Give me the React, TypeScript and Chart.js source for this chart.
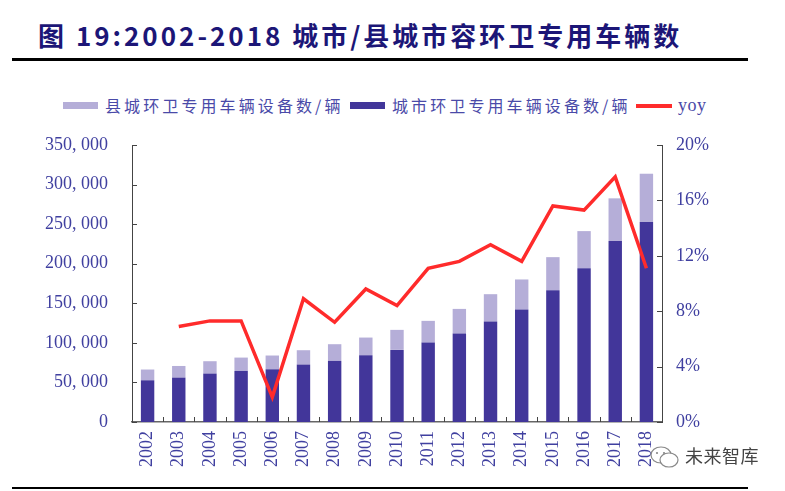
import { useEffect, useRef } from 'react'
import { Chart, registerables } from 'chart.js'

Chart.register(...registerables)

// 数据（从原图读取，单位：辆 / %）
const years = ['2002', '2003', '2004', '2005', '2006', '2007', '2008', '2009', '2010', '2011', '2012', '2013', '2014', '2015', '2016', '2017', '2018']
const cityVehicles = [52700, 56100, 61200, 64500, 66600, 72600, 77200, 84400, 91100, 100400, 111800, 127000, 142200, 166600, 194400, 228600, 252600]
const countyVehicles = [13600, 14700, 15600, 16900, 17400, 18100, 21100, 22300, 25300, 27400, 31100, 34500, 37900, 41700, 46800, 54000, 61100]
const yoy = [null, 6.9, 7.3, 7.3, 1.8, 8.9, 7.2, 9.6, 8.4, 11.1, 11.6, 12.8, 11.6, 15.6, 15.3, 17.7, 11.1]
const leftMax = 350000
const leftStep = 50000
const rightMax = 20
const rightStep = 4

const countyLabel = '县城环卫专用车辆设备数/辆'
const cityLabel = '城市环卫专用车辆设备数/辆'
const yoyLabel = 'yoy'

const DARK = '#42369a'
const LIGHT = '#b5aed8'
const RED = '#ff2b2b'
const TICK = '#4040a0'
const SERIF = '"Liberation Serif", "DejaVu Serif", serif'
const CJK = '"Noto Sans CJK SC", "Noto Sans", sans-serif'

// 坐标轴内侧刻度线
const innerTicks = {
  id: 'innerTicks',
  afterDraw (chart) {
    const { ctx, chartArea, scales } = chart
    ctx.save()
    ctx.strokeStyle = '#444'
    ctx.lineWidth = 1
    ctx.beginPath()
    scales.y.ticks.forEach((t, i) => {
      const py = Math.round(scales.y.getPixelForTick(i)) + 0.5
      ctx.moveTo(chartArea.left, py)
      ctx.lineTo(chartArea.left + 5, py)
    })
    scales.y1.ticks.forEach((t, i) => {
      const py = Math.round(scales.y1.getPixelForTick(i)) + 0.5
      ctx.moveTo(chartArea.right, py)
      ctx.lineTo(chartArea.right - 5, py)
    })
    for (let i = 1; i < years.length; i++) {
      const px = Math.round((scales.x.getPixelForTick(i - 1) + scales.x.getPixelForTick(i)) / 2) + 0.5
      ctx.moveTo(px, chartArea.bottom)
      ctx.lineTo(px, chartArea.bottom - 5)
    }
    ctx.stroke()
    ctx.restore()
  },
}

// 固定轴宽，去掉标签带来的上下留白
const fixWidth = (w) => (s) => {
  s.width = w
  s.paddingTop = 0
  s.paddingBottom = 0
}

function VehicleChart () {
  const chartRef = useRef(null)
  const chartInstance = useRef(null)

  useEffect(() => {
    if (chartInstance.current) {
      chartInstance.current.destroy()
    }
    const ctx = chartRef.current.getContext('2d')
    chartInstance.current = new Chart(ctx, {
      type: 'bar',
      data: {
        labels: years,
        datasets: [
          {
            type: 'line',
            label: yoyLabel,
            data: yoy,
            yAxisID: 'y1',
            borderColor: RED,
            borderWidth: 3.5,
            pointRadius: 0,
            tension: 0,
            order: 0,
          },
          {
            label: cityLabel,
            data: cityVehicles,
            backgroundColor: DARK,
            yAxisID: 'y',
            stack: 's',
            barPercentage: 0.43,
            categoryPercentage: 1,
            order: 1,
          },
          {
            label: countyLabel,
            data: countyVehicles,
            backgroundColor: LIGHT,
            yAxisID: 'y',
            stack: 's',
            barPercentage: 0.43,
            categoryPercentage: 1,
            order: 1,
          },
        ],
      },
      options: {
        animation: false,
        responsive: false,
        maintainAspectRatio: false,
        layout: { padding: { top: 15, left: 0, right: 0, bottom: 0 } },
        plugins: {
          legend: { display: false },
          tooltip: { enabled: false },
        },
        scales: {
          x: {
            stacked: true,
            offset: true,
            grid: { display: false, drawTicks: false },
            border: { display: true, color: '#666', width: 1.5 },
            ticks: {
              color: TICK,
              font: { family: SERIF, size: 18 },
              minRotation: 90,
              maxRotation: 90,
              padding: 9,
              autoSkip: false,
            },
            afterFit: (s) => { s.height = 58 },
          },
          y: {
            position: 'left',
            stacked: true,
            min: 0,
            max: leftMax,
            grid: { display: false, drawTicks: false },
            border: { display: true, color: '#444', width: 1 },
            ticks: {
              stepSize: leftStep,
              color: TICK,
              font: { family: SERIF, size: 18 },
              padding: 24,
              callback: (v) => v === 0 ? '0' : Math.floor(v / 1000) + ', ' + String(v % 1000).padStart(3, '0'),
            },
            afterFit: fixWidth(132),
          },
          y1: {
            position: 'right',
            min: 0,
            max: rightMax,
            grid: { display: false, drawTicks: false },
            border: { display: true, color: '#444', width: 1 },
            ticks: {
              stepSize: rightStep,
              color: TICK,
              font: { family: SERIF, size: 18 },
              padding: 14,
              callback: (v) => v + '%',
            },
            afterFit: fixWidth(123),
          },
        },
      },
      plugins: [innerTicks],
    })

    return () => {
      if (chartInstance.current) {
        chartInstance.current.destroy()
        chartInstance.current = null
      }
    }
  }, [])

  return (
    <canvas
      ref={chartRef}
      width={785}
      height={350}
      style={{ position: 'absolute', left: 0, top: 130, width: 785, height: 350 }}
    />
  )
}

const legendText = {
  position: 'absolute',
  top: 95,
  fontFamily: CJK,
  fontSize: 16,
  lineHeight: '20px',
  letterSpacing: '3.1px',
  color: '#4a4aa8',
  whiteSpace: 'nowrap',
}

export default function App () {
  useEffect(() => {
    document.body.style.margin = '0'
  }, [])

  return (
    <div style={{ position: 'relative', width: 785, height: 491, background: '#fff', overflow: 'hidden' }}>
      <div
        style={{
          position: 'absolute',
          left: 38,
          top: 20,
          fontFamily: CJK,
          fontWeight: 700,
          fontSize: 26,
          lineHeight: '30px',
          letterSpacing: '3px',
          color: '#1c1677',
          whiteSpace: 'nowrap',
        }}
      >
        图 19:2002-2018 城市/县城市容环卫专用车辆数
      </div>
      <div style={{ position: 'absolute', left: 12, top: 58, width: 736, height: 3, background: '#000' }} />

      <div style={{ position: 'absolute', left: 63, top: 102, width: 35, height: 7, background: LIGHT }} />
      <div style={{ ...legendText, left: 105 }}>{countyLabel}</div>
      <div style={{ position: 'absolute', left: 350, top: 102, width: 35, height: 7, background: DARK }} />
      <div style={{ ...legendText, left: 392 }}>{cityLabel}</div>
      <div style={{ position: 'absolute', left: 636, top: 104, width: 36, height: 4, background: RED }} />
      <div style={{ ...legendText, left: 678, fontFamily: SERIF, fontSize: 18, letterSpacing: '0.5px' }}>{yoyLabel}</div>

      <VehicleChart />

      <svg style={{ position: 'absolute', left: 649, top: 445 }} width={32} height={26} viewBox='0 0 32 26'>
        <ellipse cx='12' cy='10' rx='10' ry='8' fill='none' stroke='#888' strokeWidth='1.2' />
        <ellipse cx='20' cy='15' rx='9' ry='7' fill='#fff' stroke='#888' strokeWidth='1.2' />
        <circle cx='8' cy='8' r='1.1' fill='#888' />
        <circle cx='15' cy='8' r='1.1' fill='#888' />
      </svg>
      <div
        style={{
          position: 'absolute',
          left: 685,
          top: 444,
          fontFamily: CJK,
          fontSize: 18,
          lineHeight: '22px',
          letterSpacing: '0.5px',
          color: '#444',
          whiteSpace: 'nowrap',
        }}
      >
        未来智库
      </div>
      <div style={{ position: 'absolute', left: 12, top: 487, width: 736, height: 2, background: '#000' }} />
    </div>
  )
}
